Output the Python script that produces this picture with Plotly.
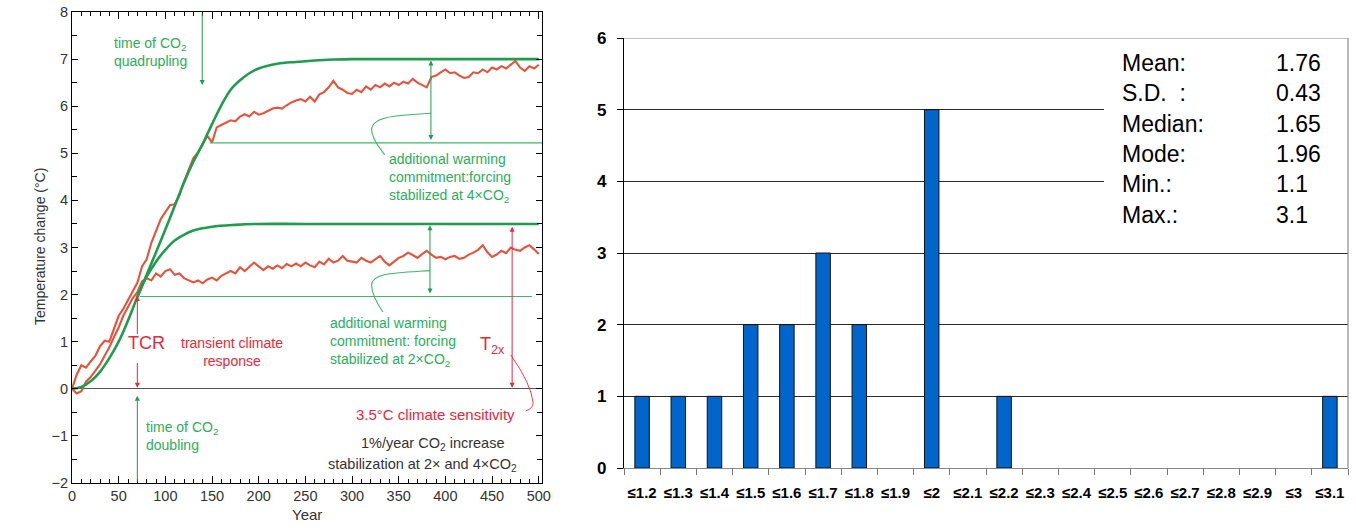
import plotly.graph_objects as go

# ---------------- Left panel data ----------------
years5 = list(range(0, 501, 5))
red_4x = [0.0, 0.3, 0.5, 0.45, 0.58, 0.7, 0.9, 1.02, 1.0, 1.3,
          1.55, 1.7, 1.88, 2.05, 2.25, 2.6, 2.75, 3.1, 3.35, 3.6,
          3.75, 3.9, 3.92, 4.1, 4.4, 4.65, 4.9, 5.02, 5.2, 5.37,
          5.23, 5.55, 5.6, 5.65, 5.7, 5.68, 5.78, 5.83, 5.78, 5.88,
          5.82, 5.85, 5.9, 5.95, 5.97, 5.95, 6.02, 6.08, 6.12, 6.15,
          6.1, 6.2, 6.1, 6.25, 6.3, 6.4, 6.54, 6.4, 6.35, 6.28,
          6.26, 6.35, 6.3, 6.42, 6.35, 6.45, 6.4, 6.48, 6.42, 6.5,
          6.45, 6.52, 6.48, 6.58, 6.5, 6.45, 6.4, 6.62, 6.65, 6.72,
          6.78, 6.7, 6.72, 6.65, 6.6, 6.62, 6.72, 6.7, 6.78, 6.72,
          6.82, 6.78, 6.85, 6.8, 6.88, 6.96, 6.82, 6.75, 6.85, 6.8,
          6.88]
red_2x = [0.0, -0.1, -0.05, 0.15, 0.25, 0.38, 0.52, 0.7, 0.88, 1.1,
          1.3, 1.55, 1.75, 1.92, 2.05, 2.28, 2.35, 2.3, 2.45, 2.38,
          2.5, 2.54, 2.42, 2.45, 2.35, 2.3, 2.26, 2.3, 2.24, 2.32,
          2.36, 2.3, 2.4, 2.45, 2.5, 2.45, 2.58, 2.5, 2.6, 2.68,
          2.6, 2.52, 2.6, 2.55, 2.62, 2.56, 2.65, 2.6, 2.66, 2.6,
          2.68, 2.62, 2.58, 2.7, 2.64, 2.76, 2.68, 2.72, 2.82, 2.72,
          2.7, 2.68, 2.78, 2.72, 2.68, 2.76, 2.82, 2.7, 2.62, 2.7,
          2.78, 2.82, 2.89, 2.84, 2.78, 2.86, 2.93, 2.85, 2.78, 2.8,
          2.75, 2.8, 2.82, 2.76, 2.78, 2.85, 2.89, 2.95, 3.05, 2.9,
          2.8, 2.85, 2.93, 2.88, 3.0, 2.95, 2.93, 3.0, 3.05, 2.96,
          2.86]

green_4x_years = [0, 10, 20, 30, 40, 50, 60, 70, 80, 90, 100, 110, 120, 130,
                  140, 150, 160, 170, 180, 190, 200, 220, 240, 260, 280, 300, 500]
green_4x = [0, 0.04, 0.16, 0.36, 0.65, 1.0, 1.45, 1.95, 2.42, 2.9, 3.38, 3.88,
            4.38, 4.82, 5.2, 5.62, 6.02, 6.35, 6.55, 6.7, 6.8, 6.9, 6.94, 6.97,
            6.99, 7.0, 7.0]
green_2x_years = [70, 75, 80, 90, 100, 110, 120, 130, 150, 175, 200, 250, 500]
green_2x = [1.95, 2.18, 2.38, 2.7, 2.95, 3.15, 3.27, 3.36, 3.44, 3.48, 3.5, 3.5, 3.5]

commit_4x_level = 5.22
commit_2x_level = 1.96

# ---------------- Right panel data ----------------
bins = ["≤1.2", "≤1.3", "≤1.4", "≤1.5", "≤1.6", "≤1.7", "≤1.8", "≤1.9", "≤2", "≤2.1",
        "≤2.2", "≤2.3", "≤2.4", "≤2.5", "≤2.6", "≤2.7", "≤2.8", "≤2.9", "≤3", "≤3.1"]
counts = [1, 1, 1, 2, 2, 3, 2, 0, 5, 0, 1, 0, 0, 0, 0, 0, 0, 0, 0, 1]
stats_labels = ["Mean:", "S.D.  :", "Median:", "Mode:", "Min.:", "Max.:"]
stats_values = ["1.76", "0.43", "1.65", "1.96", "1.1", "3.1"]

W, H = 1356, 531
FONT = "Liberation Sans, Arial, sans-serif"
GREEN = "#1f9c4d"
GREEN_T = "#2aae5c"
GREEN_THIN = "#3cb86a"
RED = "#e5533d"
RED_T = "#e6283c"


def px(x):
    return x / W


def py(y):
    return (H - y) / H


fig = go.Figure()

# left panel traces
fig.add_trace(go.Scatter(x=years5, y=red_2x, mode="lines",
                         line=dict(color=RED, width=2.1), xaxis="x", yaxis="y"))
fig.add_trace(go.Scatter(x=years5, y=red_4x, mode="lines",
                         line=dict(color=RED, width=2.1), xaxis="x", yaxis="y"))
fig.add_trace(go.Scatter(x=[147.5, 503.5], y=[commit_4x_level, commit_4x_level], mode="lines",
                         line=dict(color=GREEN_THIN, width=1.2), xaxis="x", yaxis="y"))
fig.add_trace(go.Scatter(x=[72.5, 493], y=[commit_2x_level, commit_2x_level], mode="lines",
                         line=dict(color=GREEN_THIN, width=1.2), xaxis="x", yaxis="y"))
fig.add_trace(go.Scatter(x=green_4x_years, y=green_4x, mode="lines",
                         line=dict(color=GREEN, width=2.6, shape="spline", smoothing=1.0),
                         xaxis="x", yaxis="y"))
fig.add_trace(go.Scatter(x=green_2x_years, y=green_2x, mode="lines",
                         line=dict(color=GREEN, width=2.6, shape="spline", smoothing=1.0),
                         xaxis="x", yaxis="y"))

# right panel bars (empty bins drawn as gaps)
fig.add_trace(go.Bar(x=bins, y=[c if c > 0 else None for c in counts], width=0.4,
                     marker=dict(color="#0066cc", line=dict(color="#111111", width=1)),
                     xaxis="x2", yaxis="y2"))

ann = []


def arrow(x, y, ax, ay, color, both=False, width=1.0):
    d = dict(x=x, y=y, ax=ax, ay=ay, xref="x", yref="y", axref="x", ayref="y",
             text="", showarrow=True, arrowhead=2, arrowsize=1.0, arrowwidth=width,
             arrowcolor=color, standoff=0, startstandoff=0)
    if both:
        d.update(arrowside="end+start", startarrowhead=2, startarrowsize=1.0)
    ann.append(d)


def text(x, y, t, color, size=14, xanchor="left", align="left"):
    ann.append(dict(x=x, y=y, xref="x", yref="y", text=t, showarrow=False,
                    font=dict(family=FONT, size=size, color=color),
                    xanchor=xanchor, yanchor="middle", align=align))


# arrows
arrow(139.5, 6.45, 139.5, 8.0, GREEN)
arrow(70, -0.15, 70, -2.0, GREEN)
arrow(70, 1.97, 70, 1.13, RED_T)
arrow(70, 0.02, 70, 0.58, RED_T)
arrow(384.5, 6.97, 384.5, 5.25, GREEN, both=True)
arrow(383.5, 3.47, 383.5, 1.99, GREEN, both=True)
arrow(471.5, 0.02, 471.5, 3.47, RED_T, both=True)

# texts
text(42.5, 7.15, "time of CO<sub>2</sub><br>quadrupling", GREEN_T)
text(77, -1.0, "time of CO<sub>2</sub><br>doubling", GREEN_T)
text(79.5, 0.98, "TCR", RED_T, size=18, xanchor="center", align="center")
text(171.5, 0.78, "transient climate<br>response", RED_T, xanchor="center", align="center")
text(337.5, 4.47, "additional warming<br>commitment:forcing<br>stabilized at 4×CO<sub>2</sub>", GREEN_T)
text(274, 1.0, "additional warming<br>commitment: forcing<br>stabilized at 2×CO<sub>2</sub>", GREEN_T)
text(450, 0.92, "T<sub>2x</sub>", RED_T, size=18, xanchor="center", align="center")
text(476.5, -0.55, "3.5°C climate sensitivity", RED_T, size=15, xanchor="right", align="right")
text(386.5, -1.17, "1%/year CO<sub>2</sub> increase", "#333333", size=14.5, xanchor="center", align="center")
text(375, -1.62, "stabilization at 2× and 4×CO<sub>2</sub>", "#333333", size=14.5, xanchor="center", align="center")

# axis titles of left panel
ann.append(dict(x=px(40), y=py(247), xref="paper", yref="paper", text="Temperature change (°C)",
                textangle=-90, showarrow=False, font=dict(family=FONT, size=14, color="#333333"),
                xanchor="center", yanchor="middle"))
ann.append(dict(x=px(307), y=py(514), xref="paper", yref="paper", text="Year",
                showarrow=False, font=dict(family=FONT, size=15, color="#333333"),
                xanchor="center", yanchor="middle"))

# stats box text
row_y = [63, 93.5, 124, 154, 184.5, 215]
for lab, val, yy in zip(stats_labels, stats_values, row_y):
    ann.append(dict(x=px(1120), y=py(yy), xref="paper", yref="paper", text=lab, showarrow=False,
                    font=dict(family=FONT, size=23, color="#000000"), xanchor="left", yanchor="middle"))
    ann.append(dict(x=px(1274), y=py(yy), xref="paper", yref="paper", text=val, showarrow=False,
                    font=dict(family=FONT, size=23, color="#000000"), xanchor="left", yanchor="middle"))

shapes = [
    # braces
    dict(type="path", xref="x", yref="y",
         path="M 384.5,5.85 C 345,5.8 321,5.78 321,5.5 C 321,5.3 330,5.1 335,4.97",
         line=dict(color=GREEN_THIN, width=1.1)),
    dict(type="path", xref="x", yref="y",
         path="M 383.5,2.51 C 345,2.46 321,2.46 321,2.2 C 321,2.0 328,1.78 333,1.63",
         line=dict(color=GREEN_THIN, width=1.1)),
    # red hook from T2x to sensitivity text
    dict(type="path", xref="x", yref="y",
         path="M 470,0.72 Q 492,0.1 494,-0.3 Q 494,-0.42 486,-0.47",
         line=dict(color=RED_T, width=0.9)),
    # stats box
    dict(type="rect", xref="paper", yref="paper", x0=px(1104), x1=px(1348), y0=py(240), y1=py(38),
         fillcolor="white", line=dict(width=0), layer="above"),
    dict(type="line", xref="paper", yref="y2", x0=px(624), x1=px(1348), y0=6, y1=6,
         line=dict(color="#8a8a8a", width=1.2), layer="above"),
    dict(type="line", xref="paper", yref="y2", x0=px(1348), x1=px(1348), y0=0, y1=6,
         line=dict(color="#8a8a8a", width=1.2), layer="above"),
]

fig.update_layout(
    width=W, height=H,
    margin=dict(l=0, r=0, t=0, b=0, autoexpand=False),
    paper_bgcolor="white", plot_bgcolor="white",
    showlegend=False,
    font=dict(family=FONT),
    annotations=ann,
    shapes=shapes,
    xaxis=dict(domain=[px(72), px(542)], anchor="y", range=[0, 503.5], automargin=False,
               tickmode="linear", tick0=0, dtick=50, ticks="inside", ticklen=7,
               tickcolor="#000", showline=True, linecolor="#000", linewidth=1,
               mirror="allticks", showgrid=False, zeroline=False,
               minor=dict(dtick=10, tick0=0, ticks="inside", ticklen=4, tickcolor="#000", showgrid=False),
               tickfont=dict(family=FONT, size=14.5, color="#333333")),
    yaxis=dict(domain=[py(483), py(12)], anchor="x", range=[-2, 8], automargin=False,
               tickmode="linear", tick0=0, dtick=1, ticks="inside", ticklen=6,
               tickcolor="#000", showline=True, linecolor="#000", linewidth=1,
               mirror="allticks", showgrid=False, zeroline=True, zerolinecolor="#555555",
               zerolinewidth=1,
               minor=dict(dtick=0.5, tick0=0, ticks="inside", ticklen=5, tickcolor="#000", showgrid=False),
               tickfont=dict(family=FONT, size=14.5, color="#333333")),
    xaxis2=dict(domain=[px(624), px(1348)], anchor="y2", type="category", automargin=False,
                range=[-0.5, 19.5], ticks="outside", tickson="boundaries", ticklen=6,
                tickangle=0, ticklabelstandoff=11,
                tickcolor="#777777", showline=True, linecolor="#888888", linewidth=1.2,
                showgrid=False, zeroline=False,
                tickfont=dict(family=FONT, size=15, color="#000000", weight="bold")),
    yaxis2=dict(domain=[py(468), py(38)], anchor="x2", range=[0, 6], automargin=False,
                tickmode="linear", tick0=0, dtick=1, ticks="outside", ticklen=6,
                ticklabelstandoff=7,
                tickcolor="#000", showline=True, linecolor="#000", linewidth=1.2,
                showgrid=True, gridcolor="#2a2a2a", gridwidth=1, zeroline=False,
                tickfont=dict(family=FONT, size=17, color="#000000", weight="bold")),
)

fig.write_html("out.html", config={"displayModeBar": False},
               post_script="document.body.style.margin='0px';")
